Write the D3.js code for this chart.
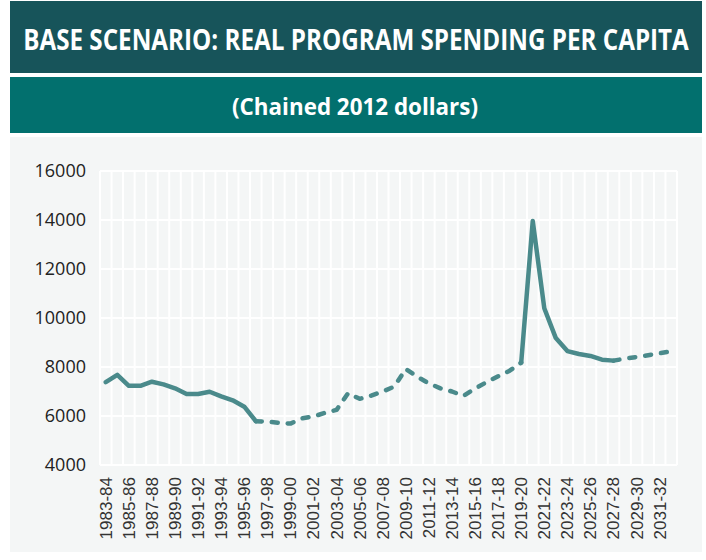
<!DOCTYPE html>
<html>
<head>
<meta charset="utf-8">
<script src="https://cdn.jsdelivr.net/npm/d3@7/dist/d3.min.js"></script>
<style>
  html, body { margin: 0; padding: 0; background: #ffffff; }
  svg { display: block; }
</style>
</head>
<body>
<svg id="chart" width="706" height="560"></svg>
<script>
// Fiscal years, 1983-84 through 2032-33
const years = [
  "1983-84","1984-85","1985-86","1986-87","1987-88","1988-89","1989-90","1990-91",
  "1991-92","1992-93","1993-94","1994-95","1995-96","1996-97","1997-98","1998-99",
  "1999-00","2000-01","2001-02","2002-03","2003-04","2004-05","2005-06","2006-07",
  "2007-08","2008-09","2009-10","2010-11","2011-12","2012-13","2013-14","2014-15",
  "2015-16","2016-17","2017-18","2018-19","2019-20","2020-21","2021-22","2022-23",
  "2023-24","2024-25","2025-26","2026-27","2027-28","2028-29","2029-30","2030-31",
  "2031-32","2032-33"
];

// Real program spending per capita (chained 2012 dollars)
const spending = [
  7380, 7680, 7230, 7230, 7400, 7290, 7130, 6900,
  6900, 6990, 6800, 6640, 6380, 5790, 5770, 5720,
  5690, 5900, 5980, 6130, 6250, 6930, 6700, 6830,
  7000, 7200, 7920, 7600, 7330, 7130, 7000, 6820,
  7120, 7380, 7620, 7850, 8180, 13960, 10400, 9180,
  8650, 8530, 8450, 8300, 8260, 8340, 8410, 8480,
  8560, 8640
];

// Stretches drawn with a solid stroke; everything else is dashed
const solidSpans = [["1983-84", "1996-97"], ["2019-20", "2027-28"]];

const yTicks = [4000, 6000, 8000, 10000, 12000, 14000, 16000];
const xTickLabels = years.filter((d, i) => i % 2 === 0).slice(0, 25);

const titleText = "BASE SCENARIO: REAL PROGRAM SPENDING PER CAPITA";
const subtitleText = "(Chained 2012 dollars)";

const svg = d3.select("#chart");

// Sizes a heading to a given width at its natural proportions, then
// stretches it vertically to the wanted cap height.
function heading(text, cx, baseline, width, capHeight) {
  const g = svg.append("g");
  const t = g.append("text")
    .attr("x", 0).attr("y", 0)
    .attr("text-anchor", "middle")
    .attr("font-family", "'Open Sans', sans-serif")
    .attr("font-weight", 700)
    .attr("font-size", 20)
    .attr("fill", "#ffffff")
    .text(text);
  const w = t.node().getComputedTextLength();
  const size = 20 * width / w;
  t.attr("font-size", size);
  const sy = capHeight / (0.714 * size);
  g.attr("transform", `translate(${cx},${baseline}) scale(1,${sy})`);
}

// Header bands
svg.append("rect").attr("x", 10).attr("y", 1).attr("width", 692).attr("height", 72)
  .attr("fill", "#17545a");
heading(titleText, 356, 50, 666, 20);

svg.append("rect").attr("x", 10).attr("y", 77).attr("width", 692).attr("height", 56)
  .attr("fill", "#02706e");
heading(subtitleText, 355, 115, 246, 17);

// Chart panel
svg.append("rect").attr("x", 10).attr("y", 137).attr("width", 692).attr("height", 415)
  .attr("fill", "#f4f6f6");

const plot = { left: 100, right: 677, top: 171, bottom: 465 };

const x = d3.scaleBand().domain(years).range([plot.left, plot.right]).padding(0);
const y = d3.scaleLinear().domain([4000, 16000]).range([plot.bottom, plot.top]);

// Grid
const grid = svg.append("g").attr("stroke", "#ffffff").attr("stroke-width", 2);
grid.selectAll("line.h").data(yTicks).join("line")
  .attr("x1", plot.left).attr("x2", plot.right)
  .attr("y1", d => y(d)).attr("y2", d => y(d));
const edges = years.map(d => x(d)).concat([plot.right]);
grid.selectAll("line.v").data(edges).join("line")
  .attr("x1", d => d).attr("x2", d => d)
  .attr("y1", plot.top).attr("y2", plot.bottom);

// Y axis labels
const yAxis = d3.axisLeft(y).tickValues(yTicks).tickSize(0).tickPadding(14)
  .tickFormat(d3.format("d"));
const yg = svg.append("g").attr("transform", `translate(${plot.left},0)`).call(yAxis);
yg.select(".domain").remove();
yg.selectAll("text")
  .attr("font-family", "'Open Sans', sans-serif")
  .attr("font-size", 18).attr("fill", "#222222");

// X axis labels (every second year), rotated
const xAxis = d3.axisBottom(x).tickValues(xTickLabels).tickSize(0).tickPadding(0);
const xg = svg.append("g").attr("transform", `translate(0,${plot.bottom})`).call(xAxis);
xg.select(".domain").remove();
xg.selectAll("text")
  .attr("font-family", "'Liberation Sans', Arial, sans-serif")
  .attr("font-size", 17).attr("fill", "#333333")
  .attr("text-anchor", "end")
  .attr("transform", "translate(0,12) rotate(-90)")
  .attr("x", 0).attr("y", 0).attr("dy", "0.35em");

// Line: split into runs of solid / dashed segments
const pts = years.map((yr, i) => ({ yr, i, v: spending[i] }));
const idx = yr => years.indexOf(yr);
const isSolidSeg = i => solidSpans.some(([a, b]) => i >= idx(a) && i + 1 <= idx(b));

const runs = [];
for (let i = 0; i < pts.length - 1; i++) {
  const solid = isSolidSeg(i);
  const last = runs[runs.length - 1];
  if (last && last.solid === solid) last.points.push(pts[i + 1]);
  else runs.push({ solid, points: [pts[i], pts[i + 1]] });
}

const line = d3.line()
  .x(d => x(d.yr) + x.bandwidth() / 2)
  .y(d => y(d.v));

svg.append("g").selectAll("path").data(runs).join("path")
  .attr("d", d => line(d.points))
  .attr("fill", "none")
  .attr("stroke", "#4a8a8b")
  .attr("stroke-width", 4.5)
  .attr("stroke-linecap", "round")
  .attr("stroke-linejoin", "round")
  .attr("stroke-dasharray", d => d.solid ? null : "6,10");
</script>
</body>
</html>
